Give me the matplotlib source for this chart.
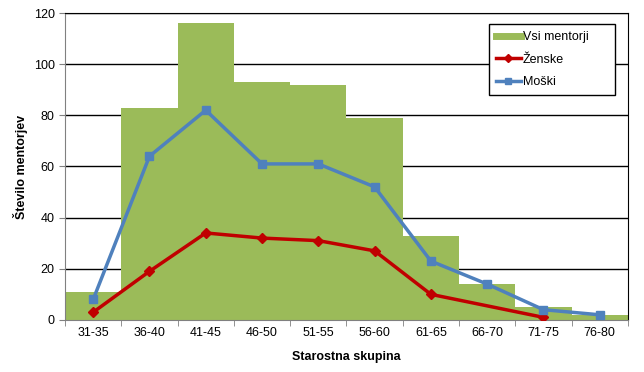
import numpy as np
import matplotlib
matplotlib.use("Agg")
import matplotlib.pyplot as plt
from matplotlib.lines import Line2D

plt.rcParams['font.family'] = ['Liberation Sans', 'DejaVu Sans']

groups = ['31-35', '36-40', '41-45', '46-50', '51-55', '56-60', '61-65', '66-70', '71-75', '76-80']
vsi = [11, 83, 116, 93, 92, 79, 33, 14, 5, 2]
zenske = [3, 19, 34, 32, 31, 27, 10, np.nan, 1, np.nan]
moski = [8, 64, 82, 61, 61, 52, 23, 14, 4, 2]

x = np.arange(len(groups))
fig = plt.figure(figsize=(6.44, 3.72), dpi=100)
ax = fig.add_axes([0.101, 0.140, 0.874, 0.825])

ax.bar(x, vsi, width=1.0, color='#9BBB59', zorder=2)

z = np.array(zenske, dtype=float)
m = np.isfinite(z)
ax.plot(x[m], z[m], color='#C00000', lw=2.5, marker='D', ms=5.5, zorder=3)
ax.plot(x, moski, color='#4F81BD', lw=2.5, marker='s', ms=5.5, zorder=4)

ax.set_xlim(-0.5, len(groups) - 0.5)
ax.set_ylim(0, 120)
ax.set_yticks(range(0, 121, 20))
ax.yaxis.grid(True, color='black', lw=1)
ax.set_axisbelow(True)
ax.set_xticks(x)
ax.set_xticklabels(groups, fontsize=9)
ax.set_xticks(np.arange(-0.5, len(groups)), minor=True)
ax.tick_params(axis='x', which='major', length=0, pad=5)
ax.tick_params(axis='x', which='minor', length=4, color='#808080')
ax.tick_params(axis='y', length=4, color='#808080', labelsize=9)

for s in ['left', 'bottom']:
    ax.spines[s].set_color('#808080')
ax.spines['right'].set_color('black')
ax.spines['top'].set_color('black')

ax.set_xlabel('Starostna skupina', fontsize=9, fontweight='bold', labelpad=9)
ax.set_ylabel('Število mentorjev', fontsize=9, fontweight='bold', labelpad=4)

handles = [
    Line2D([], [], color='#9BBB59', lw=5),
    Line2D([], [], color='#C00000', lw=2.5, marker='D', ms=4),
    Line2D([], [], color='#4F81BD', lw=2.5, marker='s', ms=4),
]
leg = ax.legend(handles, ['Vsi mentorji', 'Ženske', 'Moški'],
                loc='upper left', bbox_to_anchor=(0.753, 0.0, 0.224, 0.964),
                mode='expand', borderaxespad=0,
                fontsize=9, frameon=True, fancybox=False, edgecolor='black', framealpha=1,
                handlelength=2.0, handletextpad=0.15, borderpad=0.55, labelspacing=0.85)
leg.get_frame().set_linewidth(1)

fig.savefig('out.png', dpi=100)
